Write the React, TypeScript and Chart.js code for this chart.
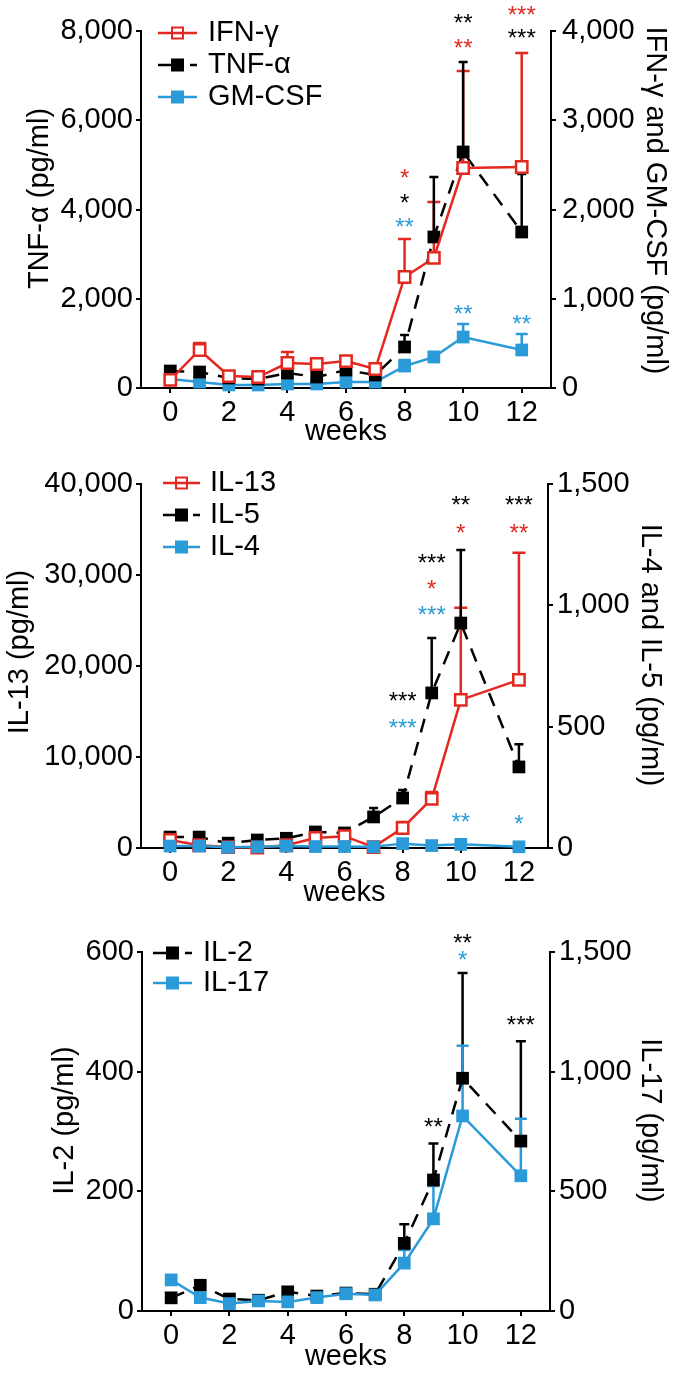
import React, { useEffect, useRef } from 'react';
import { Chart, registerables } from 'chart.js';

Chart.register(...registerables);

const RED = '#E3281F';
const BLUE = '#2A9BD8';
const BLACK = '#000000';
const FONT = "'Liberation Sans', Arial, Helvetica, sans-serif";
const COLORS: Record<string, string> = { red: RED, blue: BLUE, black: BLACK };

// ---------- data ----------
const weeks = [0, 1, 2, 3, 4, 5, 6, 7, 8, 9, 10, 12];
const xTickWeeks = [0, 2, 4, 6, 8, 10, 12];

// Panel A
const ifnGamma = [90, 426, 134, 123, 280, 269, 302, 213, 1244, 1457, 2465, 2476];
const ifnGammaSem = [30, 78, 20, 15, 123, 45, 50, 20, 426, 627, 1087, 1277];
const tnfAlpha = [381, 358, 224, 200, 336, 246, 403, 291, 919, 3384, 5289, 3496];
const tnfAlphaSem = [30, 40, 30, 30, 60, 40, 60, 40, 269, 1344, 2016, 1300];
const gmCsf = [101, 67, 34, 34, 45, 45, 67, 67, 246, 347, 571, 426];
const gmCsfSem = [15, 15, 10, 10, 15, 15, 15, 15, 68, 56, 146, 179];

// Panel B
const il13 = [880, 300, 100, 50, 300, 1100, 1300, 100, 2200, 5390, 16280, 18480];
const il13Sem = [200, 200, 150, 150, 200, 250, 300, 150, 660, 770, 10120, 13970];
const il5 = [45, 45, 20, 33, 40, 66, 62, 128, 206, 639, 927, 334];
const il5Sem = [8, 8, 8, 8, 8, 15, 13, 37, 33, 226, 301, 94];
const il4 = [8, 8, 3, 5, 8, 6, 6, 5, 18, 10, 15, 5];
const il4Sem = [3, 3, 3, 3, 3, 3, 3, 3, 3, 3, 3, 3];

// Panel C
const il2 = [22, 43, 20, 18, 32, 25, 30, 28, 113, 219, 389, 284];
const il2Sem = [5, 5, 5, 5, 5, 5, 5, 5, 32, 61, 176, 167];
const il17 = [130, 56, 31, 42, 38, 56, 72, 67, 200, 385, 815, 565];
const il17Sem = [10, 10, 10, 10, 10, 10, 10, 10, 55, 137, 293, 238];

// significance stars: [week, level on right axis, text, colour]
const starsA: [number, number, string, string][] = [
  [8, 2420, '*', 'red'], [8, 2140, '*', 'black'], [8, 1870, '**', 'blue'],
  [10, 4155, '**', 'black'], [10, 3875, '**', 'red'], [10, 896, '**', 'blue'],
  [12, 4245, '***', 'red'], [12, 3987, '***', 'black'], [12, 784, '**', 'blue'],
];
const starsB: [number, number, string, string][] = [
  [8, 630, '***', 'black'], [8, 519, '***', 'blue'],
  [9, 1199, '***', 'black'], [9, 1092, '*', 'red'], [9, 985, '***', 'blue'],
  [10, 1438, '**', 'black'], [10, 1322, '*', 'red'], [10, 132, '**', 'blue'],
  [12, 1438, '***', 'black'], [12, 1322, '**', 'red'], [12, 124, '*', 'blue'],
];
const starsC: [number, number, string, string][] = [
  [9, 794, '**', 'black'], [10, 1563, '**', 'black'], [10, 1492, '*', 'blue'], [12, 1220, '***', 'black'],
];

type Series = {
  label: string; values: number[]; sem: number[]; color: string; axis: 'y' | 'y1';
  dashed: boolean; open: boolean; order: number; cap: number;
};

type PanelCfg = {
  height: number;
  top: number; leftW: number; rightW: number; xAxisH: number; weeksPad: number;
  leftMax: number; leftStep: number; rightMax: number; rightStep: number;
  rightPad: number;
  leftTitle: string; rightTitle: string;
  leftTitleX: number; leftTitleDy: number; rightTitleX: number; rightTitleDy: number;
  legend: { x0: number; x1: number; textX: number; y0: number; dy: number };
  series: Series[];
  stars: [number, number, string, string][];
};

const panels: PanelCfg[] = [
  {
    height: 459, top: 31, leftW: 141, rightW: 126, xAxisH: 71, weeksPad: 10,
    leftMax: 8000, leftStep: 2000, rightMax: 4000, rightStep: 1000, rightPad: 6,
    leftTitle: 'TNF-α (pg/ml)', rightTitle: 'IFN-γ and GM-CSF (pg/ml)',
    leftTitleX: 40, leftTitleDy: -11, rightTitleX: 655, rightTitleDy: -9,
    legend: { x0: 158, x1: 197, textX: 208, y0: 33, dy: 32 },
    series: [
      { label: 'IFN-γ', values: ifnGamma, sem: ifnGammaSem, color: RED, axis: 'y1', dashed: false, open: true, order: 0, cap: 13 },
      { label: 'TNF-α', values: tnfAlpha, sem: tnfAlphaSem, color: BLACK, axis: 'y', dashed: true, open: false, order: 1, cap: 9 },
      { label: 'GM-CSF', values: gmCsf, sem: gmCsfSem, color: BLUE, axis: 'y1', dashed: false, open: false, order: 2, cap: 12 },
    ],
    stars: starsA,
  },
  {
    height: 459, top: 25, leftW: 141, rightW: 129, xAxisH: 70, weeksPad: 8,
    leftMax: 40000, leftStep: 10000, rightMax: 1500, rightStep: 500, rightPad: 4,
    leftTitle: 'IL-13 (pg/ml)', rightTitle: 'IL-4 and IL-5 (pg/ml)',
    leftTitleX: 20, leftTitleDy: -14, rightTitleX: 650, rightTitleDy: -11,
    legend: { x0: 163, x1: 200, textX: 210, y0: 24, dy: 32 },
    series: [
      { label: 'IL-13', values: il13, sem: il13Sem, color: RED, axis: 'y', dashed: false, open: true, order: 1, cap: 13 },
      { label: 'IL-5', values: il5, sem: il5Sem, color: BLACK, axis: 'y1', dashed: true, open: false, order: 2, cap: 9 },
      { label: 'IL-4', values: il4, sem: il4Sem, color: BLUE, axis: 'y1', dashed: false, open: false, order: 0, cap: 12 },
    ],
    stars: starsB,
  },
  {
    height: 459, top: 34, leftW: 142, rightW: 127, xAxisH: 66, weeksPad: 3,
    leftMax: 600, leftStep: 200, rightMax: 1500, rightStep: 500, rightPad: 4,
    leftTitle: 'IL-2 (pg/ml)', rightTitle: 'IL-17 (pg/ml)',
    leftTitleX: 65, leftTitleDy: -11, rightTitleX: 650, rightTitleDy: -11,
    legend: { x0: 153, x1: 192, textX: 203, y0: 35, dy: 30 },
    series: [
      { label: 'IL-2', values: il2, sem: il2Sem, color: BLACK, axis: 'y', dashed: true, open: false, order: 1, cap: 10 },
      { label: 'IL-17', values: il17, sem: il17Sem, color: BLUE, axis: 'y1', dashed: false, open: false, order: 0, cap: 12 },
    ],
    stars: starsC,
  },
];

const fmt = (v: number) => Number(v).toLocaleString('en-US');

function Panel({ cfg }: { cfg: PanelCfg }) {
  const ref = useRef<HTMLCanvasElement>(null);

  useEffect(() => {
    const canvas = ref.current!;
    const errorBars = {
      id: 'errorBars',
      beforeDatasetsDraw(chart: any) {
        const ctx = chart.ctx;
        cfg.series.forEach((s, i) => {
          const meta = chart.getDatasetMeta(i);
          const scale = chart.scales[s.axis];
          ctx.save();
          ctx.strokeStyle = s.color;
          ctx.lineWidth = 2.5;
          ctx.setLineDash([]);
          meta.data.forEach((pt: any, j: number) => {
            const top = scale.getPixelForValue(s.values[j] + s.sem[j]);
            ctx.beginPath();
            ctx.moveTo(pt.x, pt.y);
            ctx.lineTo(pt.x, top);
            ctx.moveTo(pt.x - s.cap / 2, top);
            ctx.lineTo(pt.x + s.cap / 2, top);
            ctx.stroke();
          });
          ctx.restore();
        });
      },
    };
    const overlay = {
      id: 'overlay',
      afterDraw(chart: any) {
        const { ctx, chartArea } = chart;
        const xs = chart.scales.x;
        const yr = chart.scales.y1;
        // stars
        ctx.save();
        ctx.font = `24px ${FONT}`;
        ctx.textAlign = 'center';
        ctx.textBaseline = 'alphabetic';
        cfg.stars.forEach(([w, v, t, c]) => {
          ctx.fillStyle = COLORS[c];
          ctx.fillText(t, xs.getPixelForValue(w), yr.getPixelForValue(v) + 14);
        });
        ctx.restore();
        // legend
        const L = cfg.legend;
        cfg.series.forEach((s, i) => {
          const y = L.y0 + i * L.dy;
          const xm = (L.x0 + L.x1) / 2;
          ctx.save();
          ctx.strokeStyle = s.color;
          ctx.lineWidth = 2.5;
          ctx.beginPath();
          if (s.dashed) {
            ctx.moveTo(L.x0, y); ctx.lineTo(xm, y);
            ctx.moveTo(L.x1 - 7, y); ctx.lineTo(L.x1, y);
          } else {
            ctx.moveTo(L.x0, y); ctx.lineTo(L.x1, y);
          }
          ctx.stroke();
          if (s.open) {
            ctx.lineWidth = 2;
            ctx.strokeRect(xm - 5.5, y - 5.5, 11, 11);
          } else {
            ctx.fillStyle = s.color;
            ctx.fillRect(xm - 6.5, y - 6.5, 13, 13);
          }
          ctx.fillStyle = BLACK;
          ctx.font = `29px ${FONT}`;
          ctx.textBaseline = 'middle';
          ctx.textAlign = 'left';
          ctx.fillText(s.label, L.textX, y);
          ctx.restore();
        });
        // axis titles
        const mid = (chartArea.top + chartArea.bottom) / 2;
        ctx.save();
        ctx.font = `29px ${FONT}`;
        ctx.fillStyle = BLACK;
        ctx.textAlign = 'center';
        ctx.textBaseline = 'middle';
        ctx.translate(cfg.leftTitleX, mid + cfg.leftTitleDy);
        ctx.rotate(-Math.PI / 2);
        ctx.fillText(cfg.leftTitle, 0, 0);
        ctx.restore();
        ctx.save();
        ctx.font = `29px ${FONT}`;
        ctx.fillStyle = BLACK;
        ctx.textAlign = 'center';
        ctx.textBaseline = 'middle';
        ctx.translate(cfg.rightTitleX, mid + cfg.rightTitleDy);
        ctx.rotate(Math.PI / 2);
        ctx.fillText(cfg.rightTitle, 0, 0);
        ctx.restore();
      },
    };

    const axisCommon = {
      grid: { display: true, drawOnChartArea: false, drawTicks: true, tickLength: 5, color: BLACK, lineWidth: 2 },
      border: { display: true, color: BLACK, width: 2 },
    };

    const chart = new Chart(canvas, {
      type: 'line',
      data: {
        datasets: cfg.series.map((s) => ({
          label: s.label,
          data: weeks.map((w, i) => ({ x: w, y: s.values[i] })),
          yAxisID: s.axis,
          borderColor: s.color,
          borderWidth: 2.5,
          borderDash: s.dashed ? [14, 10] : [],
          tension: 0,
          fill: false,
          pointStyle: 'rect',
          pointRadius: s.open ? 8 : 9,
          pointBackgroundColor: s.open ? '#ffffff' : s.color,
          pointBorderColor: s.color,
          pointBorderWidth: s.open ? 2.5 : 0,
          order: s.order,
          clip: false,
        })),
      },
      options: {
        animation: false,
        responsive: false,
        maintainAspectRatio: false,
        devicePixelRatio: 1,
        events: [],
        layout: { padding: { top: cfg.top, left: 0, right: 0, bottom: 0 } },
        plugins: { legend: { display: false }, tooltip: { enabled: false } },
        scales: {
          x: {
            type: 'linear',
            min: -1,
            max: 13,
            ...axisCommon,
            afterBuildTicks: (s: any) => { s.ticks = xTickWeeks.map((v) => ({ value: v })); },
            afterFit: (s: any) => { s.height = cfg.xAxisH; },
            ticks: { font: { family: FONT, size: 29 }, color: BLACK, padding: 3, maxRotation: 0, autoSkip: false },
            title: { display: true, text: 'weeks', font: { family: FONT, size: 29 }, color: BLACK, padding: { top: 0, bottom: cfg.weeksPad } },
          },
          y: {
            type: 'linear',
            position: 'left',
            min: 0,
            max: cfg.leftMax,
            ...axisCommon,
            afterFit: (s: any) => { s.width = cfg.leftW; },
            ticks: { stepSize: cfg.leftStep, font: { family: FONT, size: 29 }, color: BLACK, padding: 3, callback: (v: any) => fmt(v) },
          },
          y1: {
            type: 'linear',
            position: 'right',
            min: 0,
            max: cfg.rightMax,
            ...axisCommon,
            afterFit: (s: any) => { s.width = cfg.rightW; },
            ticks: { stepSize: cfg.rightStep, font: { family: FONT, size: 29 }, color: BLACK, padding: cfg.rightPad, callback: (v: any) => fmt(v) },
          },
        },
      } as any,
      plugins: [errorBars, overlay],
    });
    return () => chart.destroy();
  }, [cfg]);

  return (
    <canvas
      ref={ref}
      width={677}
      height={cfg.height}
      style={{ display: 'block', width: 677, height: cfg.height }}
    />
  );
}

export default function App() {
  return (
    <div style={{ position: 'absolute', left: 0, top: 0, width: 677, background: '#fff' }}>
      {panels.map((p, i) => (
        <Panel key={i} cfg={p} />
      ))}
    </div>
  );
}
